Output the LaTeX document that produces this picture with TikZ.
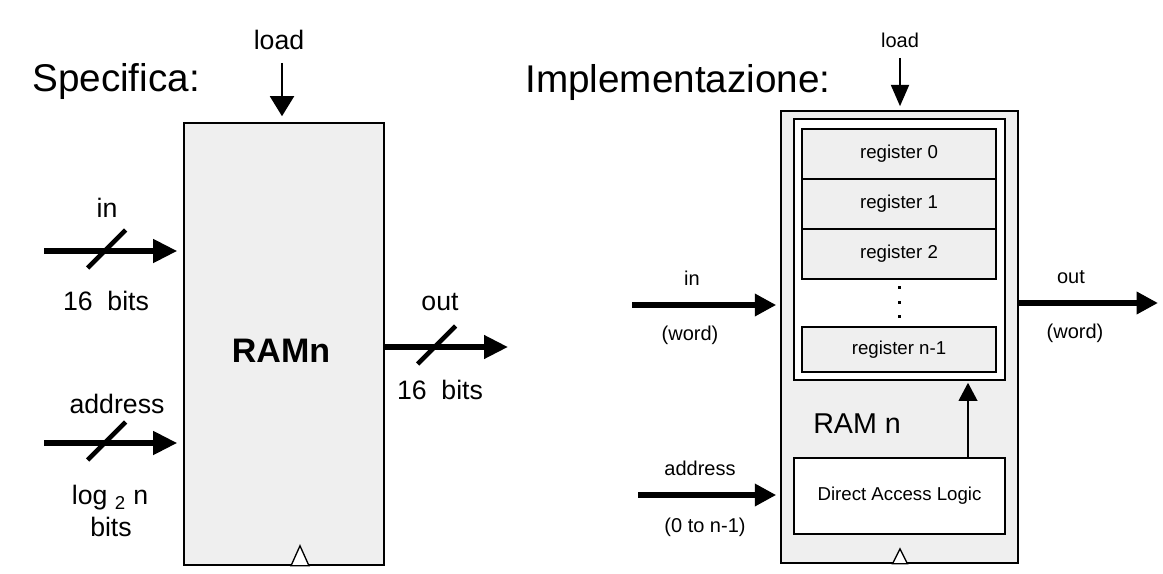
\documentclass[tikz,border=0pt]{standalone}
\usepackage{fontspec}
\setmainfont{Liberation Sans}
\usetikzlibrary{calc,arrows.meta,positioning}
\definecolor{boxgray}{RGB}{239,239,239}

\begin{document}
\begin{tikzpicture}[
  x=0.75pt, y=-0.75pt,
  every node/.style={inner sep=0pt},
  title/.style={font=\fontsize{29}{34}\selectfont, anchor=base west},
  lbl/.style={font=\fontsize{20}{24}\selectfont},
  slbl/.style={font=\fontsize{15}{18}\selectfont},
  block/.style={draw, line width=1.2pt, fill=boxgray},
  reg/.style={draw, line width=1.2pt, fill=boxgray, minimum width=145.5pt,
    minimum height=37.5pt, outer sep=0pt, font=\fontsize{14}{17}\selectfont},
  bus/.style={line width=4pt, -{Triangle[length=18pt,width=17pt]}, shorten >=4.5pt},
  wire/.style={line width=4pt, -{Triangle[length=16pt,width=16pt]}, shorten >=3pt},
  slash/.style={line width=3.5pt},
  ldarr/.style={line width=1.5pt, -{Triangle[length=15pt,width=18pt]}, shorten >=4.5pt},
  ctrl/.style={line width=1.2pt, -{Triangle[length=13.5pt,width=14pt]}, shorten >=1.5pt},
  clock/.style={draw, line width=1pt, fill=white}
]
\useasboundingbox (0,0) rectangle (1163,574);

% Specifica
\node[title] (spec) at (32,92) {Specifica:};
\node[block, minimum width=150pt, minimum height=331.5pt] (ramS) at (284,344) {};
\node[font=\bfseries\fontsize{25.5}{30}\selectfont] (ramSlbl) at (281,351) {RAMn};
\draw[clock] ($(ramS.south)+(16,0)$) ++(-9,0) -- ++(9,-20) -- ++(9,20) -- cycle;

\node[lbl] (loadS) at (279,40) {load};
\coordinate (ldS) at (282,63);
\draw[ldarr] (ldS) -- (ldS |- ramS.north);

\coordinate (inS) at (44,251);
\coordinate (inSt) at (inS -| ramS.west);
\draw[bus] (inS) -- (inSt);
\draw[slash] ($(inS)!0.45!(inSt)$) ++(-19,17) -- ++(38,-38);
\node[lbl] (inSlbl) at (107,208) {in};
\node[lbl] (inSbits) at (106,301) {16\ \ bits};

\coordinate (addrS) at (44,443);
\coordinate (addrSt) at (addrS -| ramS.west);
\draw[bus] (addrS) -- (addrSt);
\draw[slash] ($(addrS)!0.45!(addrSt)$) ++(-19,17) -- ++(38,-38);
\node[lbl] (addrSlbl) at (117,404) {address};
\node[lbl] (addrSlog) at (110,498) {log \textsubscript{2} n};
\node[lbl] (addrSbits) at (111,527) {bits};

\coordinate (outSend) at (508,347);
\coordinate (outSst) at (outSend -| ramS.east);
\draw[bus, shorten >=0pt] (outSst) -- (outSend);
\draw[slash] ($(outSst)!0.42!(outSend)$) ++(-19,17) -- ++(38,-38);
\node[lbl] (outSlbl) at (440,302) {out};
\node[lbl] (outSbits) at (440,390) {16\ \ bits};

% Implementazione
\node[title] (impl) at (525,93) {Implementazione:};
\node[block, minimum width=177.75pt, minimum height=339pt] (ramI) at (899.5,337) {};
\node[block, fill=white, minimum width=158.25pt, minimum height=195.75pt] (regs) at (899.5,249.5) {};
\node[reg] (r0) at (899,154) {register 0};
\node[reg, below=0pt of r0] (r1) {register 1};
\node[reg, below=0pt of r1] (r2) {register 2};
\node[reg, minimum height=33.75pt] (rn) at (899,349.5) {register n-1};
\foreach \t in {0.17,0.48,0.79}
  \fill ($(r2.south)!\t!(rn.north)$) ++(-1.5,-1.5) rectangle ++(3,3);
\node[block, fill=white, minimum width=158.25pt, minimum height=57pt,
  font=\fontsize{14}{17}\selectfont] (dal) at (899.5,496) {Direct Access Logic};
\node[font=\fontsize{21.5}{25}\selectfont, anchor=west] (ramIlbl) at (813,424) {RAM n};
\coordinate (dalup) at ($(dal.north)+(68.5,0)$);
\draw[ctrl] (dalup) -- (dalup |- regs.south);
\draw[clock] ($(ramI.south)+(0.5,0)$) ++(-7.5,0) -- ++(7.5,-15) -- ++(7.5,15) -- cycle;

\node[slbl] (loadI) at (900,40) {load};
\coordinate (ldI) at (900,58);
\draw[ldarr, -{Triangle[length=16pt,width=13.5pt]}, shorten >=3pt] (ldI) -- (ldI |- ramI.north);

\coordinate (inI) at (632,305);
\draw[wire] (inI) -- (inI -| ramI.west);
\node[slbl] (inIlbl) at (692,278) {in};
\node[slbl] (inIword) at (690,335) {(word)};

\coordinate (addrI) at (638,495);
\draw[wire] (addrI) -- (addrI -| ramI.west);
\node[slbl] (addrIlbl) at (700,468) {address};
\node[slbl] (addrIrange) at (705,527) {(0 to n-1)};

\coordinate (outIend) at (1158,303);
\draw[wire, shorten >=0pt] (outIend -| ramI.east) -- (outIend);
\node[slbl] (outIlbl) at (1071,277) {out};
\node[slbl] (outIword) at (1075,333) {(word)};
\end{tikzpicture}
\end{document}
